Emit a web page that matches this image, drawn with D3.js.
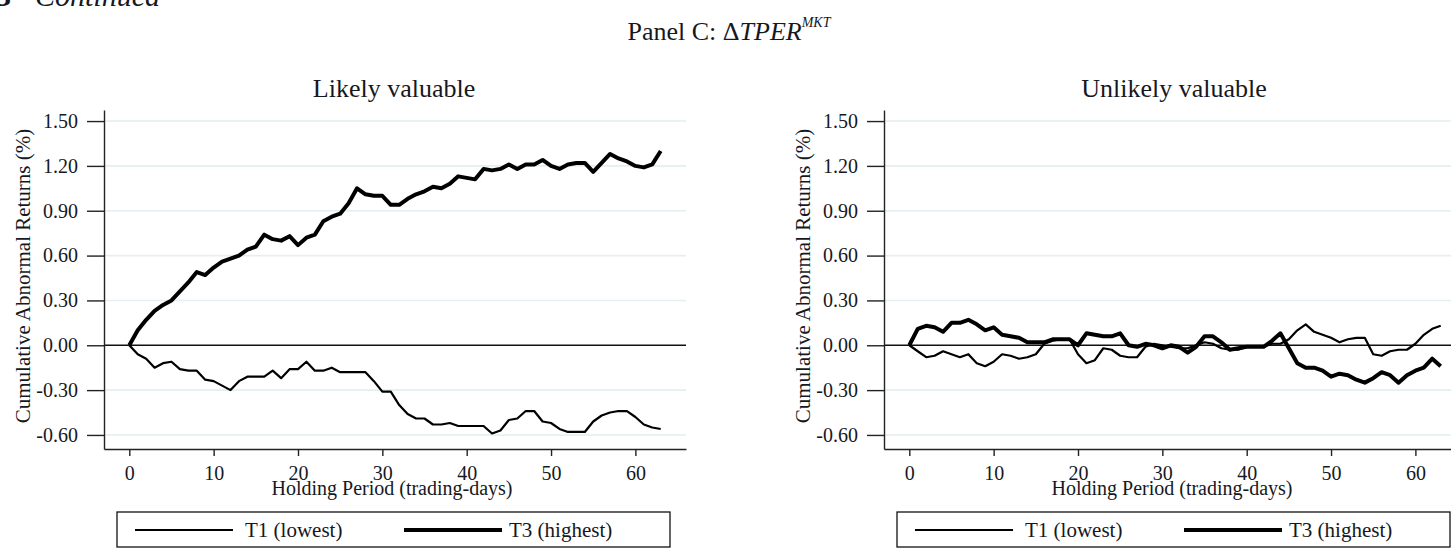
<!DOCTYPE html>
<html>
<head>
<meta charset="utf-8">
<script src="https://cdn.jsdelivr.net/npm/d3@7"></script>
<style>
  body { margin: 0; background: #fff; }
  svg { display: block; overflow: hidden; }
  text { font-family: "Liberation Serif", "Times New Roman", serif; fill: #161821; }
</style>
</head>
<body>
<div id="chart"></div>
<script>
// cumulative abnormal returns (%), one value per trading day 0..63
const leftT1 = [
  0, -0.06, -0.09, -0.15, -0.12, -0.11, -0.16, -0.17, -0.17, -0.23,
  -0.24, -0.27, -0.30, -0.24, -0.21, -0.21, -0.21, -0.17, -0.22, -0.16,
  -0.16, -0.11, -0.17, -0.17, -0.15, -0.18, -0.18, -0.18, -0.18, -0.24,
  -0.31, -0.31, -0.40, -0.46, -0.49, -0.49, -0.53, -0.53, -0.52, -0.54,
  -0.54, -0.54, -0.54, -0.59, -0.57, -0.50, -0.49, -0.44, -0.44, -0.51,
  -0.52, -0.56, -0.58, -0.58, -0.58, -0.51, -0.47, -0.45, -0.44, -0.44,
  -0.48, -0.53, -0.55, -0.56
]
const leftT3 = [
  0, 0.10, 0.17, 0.23, 0.27, 0.30, 0.36, 0.42, 0.49, 0.47,
  0.52, 0.56, 0.58, 0.60, 0.64, 0.66, 0.74, 0.71, 0.70, 0.73,
  0.67, 0.72, 0.74, 0.83, 0.86, 0.88, 0.95, 1.05, 1.01, 1.00,
  1.00, 0.94, 0.94, 0.98, 1.01, 1.03, 1.06, 1.05, 1.08, 1.13,
  1.12, 1.11, 1.18, 1.17, 1.18, 1.21, 1.18, 1.21, 1.21, 1.24,
  1.20, 1.18, 1.21, 1.22, 1.22, 1.16, 1.22, 1.28, 1.25, 1.23,
  1.20, 1.19, 1.21, 1.30
]
const rightT1 = [
  0, -0.04, -0.08, -0.07, -0.04, -0.06, -0.08, -0.06, -0.12, -0.14,
  -0.11, -0.06, -0.07, -0.09, -0.08, -0.06, 0.01, 0.03, 0.04, 0.04,
  -0.06, -0.12, -0.10, -0.02, -0.03, -0.07, -0.08, -0.08, -0.01, 0.01,
  0.00, -0.01, -0.02, -0.02, 0.00, 0.02, 0.01, -0.02, -0.03, -0.03,
  -0.01, -0.01, -0.01, 0.01, 0.01, 0.04, 0.10, 0.14, 0.09, 0.07,
  0.05, 0.02, 0.04, 0.05, 0.05, -0.06, -0.07, -0.04, -0.03, -0.03,
  0.01, 0.07, 0.11, 0.13
]
const rightT3 = [
  0, 0.11, 0.13, 0.12, 0.09, 0.15, 0.15, 0.17, 0.14, 0.10,
  0.12, 0.07, 0.06, 0.05, 0.02, 0.02, 0.02, 0.04, 0.04, 0.04,
  0.00, 0.08, 0.07, 0.06, 0.06, 0.08, 0.00, -0.01, 0.01, 0.00,
  -0.02, 0.00, -0.01, -0.05, -0.01, 0.06, 0.06, 0.02, -0.03, -0.02,
  -0.01, -0.01, -0.01, 0.03, 0.08, -0.02, -0.12, -0.15, -0.15, -0.17,
  -0.21, -0.19, -0.20, -0.23, -0.25, -0.22, -0.18, -0.20, -0.25, -0.20,
  -0.17, -0.15, -0.09, -0.14
]

const yTicks = [-0.60, -0.30, 0.00, 0.30, 0.60, 0.90, 1.20, 1.50]
const xTicks = [0, 10, 20, 30, 40, 50, 60]
const seriesNames = ['T1 (lowest)', 'T3 (highest)']
const panelTitles = ['Likely valuable', 'Unlikely valuable']

const W = 1451, H = 550
const svg = d3.select('#chart').append('svg')
  .attr('width', W).attr('height', H)

svg.append('rect').attr('width', W).attr('height', H).attr('fill', '#fff')

// figure caption, cut off at the top edge
svg.append('text').attr('x', 11).attr('y', 6)
  .attr('text-anchor', 'end').attr('font-size', 30).attr('font-weight', 'bold')
  .text('Figure 3')
svg.append('text').attr('x', 35).attr('y', 6)
  .attr('font-size', 30).attr('font-style', 'italic')
  .text('Continued')

const head = svg.append('text').attr('x', 729).attr('y', 40)
  .attr('text-anchor', 'middle').attr('font-size', 26)
head.append('tspan').text('Panel C: \u0394')
head.append('tspan').attr('font-style', 'italic').text('TPER')
head.append('tspan').attr('font-style', 'italic').attr('font-size', 14)
  .attr('dy', -13).text('MKT')

const fmt = d => d.toFixed(2)

const drawPanel = ({x0, title, t1, t3}) => {
  const g = svg.append('g').attr('transform', `translate(${x0},0)`)

  const x = d3.scaleLinear().domain([-3, 66]).range([104, 686])
  const y = d3.scaleLinear().domain([-0.694, 1.574]).range([449, 110])

  g.append('text').attr('x', 394).attr('y', 97)
    .attr('text-anchor', 'middle').attr('font-size', 26)
    .text(title)

  g.append('g').selectAll('line').data(yTicks.filter(v => v !== 0)).enter().append('line')
    .attr('x1', x.range()[0]).attr('x2', x.range()[1])
    .attr('y1', d => y(d)).attr('y2', d => y(d))
    .attr('stroke', '#e5eef1').attr('stroke-width', 1.6)

  g.append('line')
    .attr('x1', x.range()[0]).attr('x2', x.range()[1])
    .attr('y1', y(0)).attr('y2', y(0))
    .attr('stroke', '#111').attr('stroke-width', 1.3)

  const yAxis = g.append('g').attr('transform', 'translate(104,0)')
    .call(d3.axisLeft(y).tickValues(yTicks).tickFormat(fmt)
      .tickSize(17).tickSizeOuter(0).tickPadding(9))
  const xAxis = g.append('g').attr('transform', 'translate(0,449)')
    .call(d3.axisBottom(x).tickValues(xTicks)
      .tickSize(7).tickSizeOuter(0).tickPadding(10))
  ;[yAxis, xAxis].forEach(a => {
    a.select('.domain').attr('stroke', '#222').attr('stroke-width', 1.4)
    a.selectAll('.tick line').attr('stroke', '#222').attr('stroke-width', 1.4)
    a.selectAll('.tick text').attr('font-size', 20).attr('fill', '#161821')
      .attr('font-family', '"Liberation Serif", "Times New Roman", serif')
  })

  g.append('text')
    .attr('transform', 'translate(30,276) rotate(-90)')
    .attr('text-anchor', 'middle').attr('font-size', 21)
    .text('Cumulative Abnormal Returns (%)')
  g.append('text').attr('x', 392).attr('y', 495)
    .attr('text-anchor', 'middle').attr('font-size', 20)
    .text('Holding Period (trading-days)')

  const line = d3.line().x((d, i) => x(i)).y(d => y(d))
  g.append('path').datum(t1).attr('d', line)
    .attr('fill', 'none').attr('stroke', '#000').attr('stroke-width', 2.2)
    .attr('stroke-linejoin', 'round')
  g.append('path').datum(t3).attr('d', line)
    .attr('fill', 'none').attr('stroke', '#000').attr('stroke-width', 4)
    .attr('stroke-linejoin', 'round')

  // legend
  const lg = g.append('g')
  lg.append('rect').attr('x', 117).attr('y', 512).attr('width', 553).attr('height', 35)
    .attr('fill', '#fff').attr('stroke', '#111').attr('stroke-width', 1.3)
  const items = [
    {name: seriesNames[0], x1: 135, x2: 233, tx: 245, w: 2.2},
    {name: seriesNames[1], x1: 404, x2: 502, tx: 509, w: 4}
  ]
  lg.selectAll('line').data(items).enter().append('line')
    .attr('x1', d => d.x1).attr('x2', d => d.x2).attr('y1', 530).attr('y2', 530)
    .attr('stroke', '#000').attr('stroke-width', d => d.w)
  lg.selectAll('text').data(items).enter().append('text')
    .attr('x', d => d.tx).attr('y', 530).attr('dy', '0.35em')
    .attr('font-size', 21).text(d => d.name)
}

drawPanel({x0: 0, title: panelTitles[0], t1: leftT1, t3: leftT3})
drawPanel({x0: 780, title: panelTitles[1], t1: rightT1, t3: rightT3})
</script>
</body>
</html>
